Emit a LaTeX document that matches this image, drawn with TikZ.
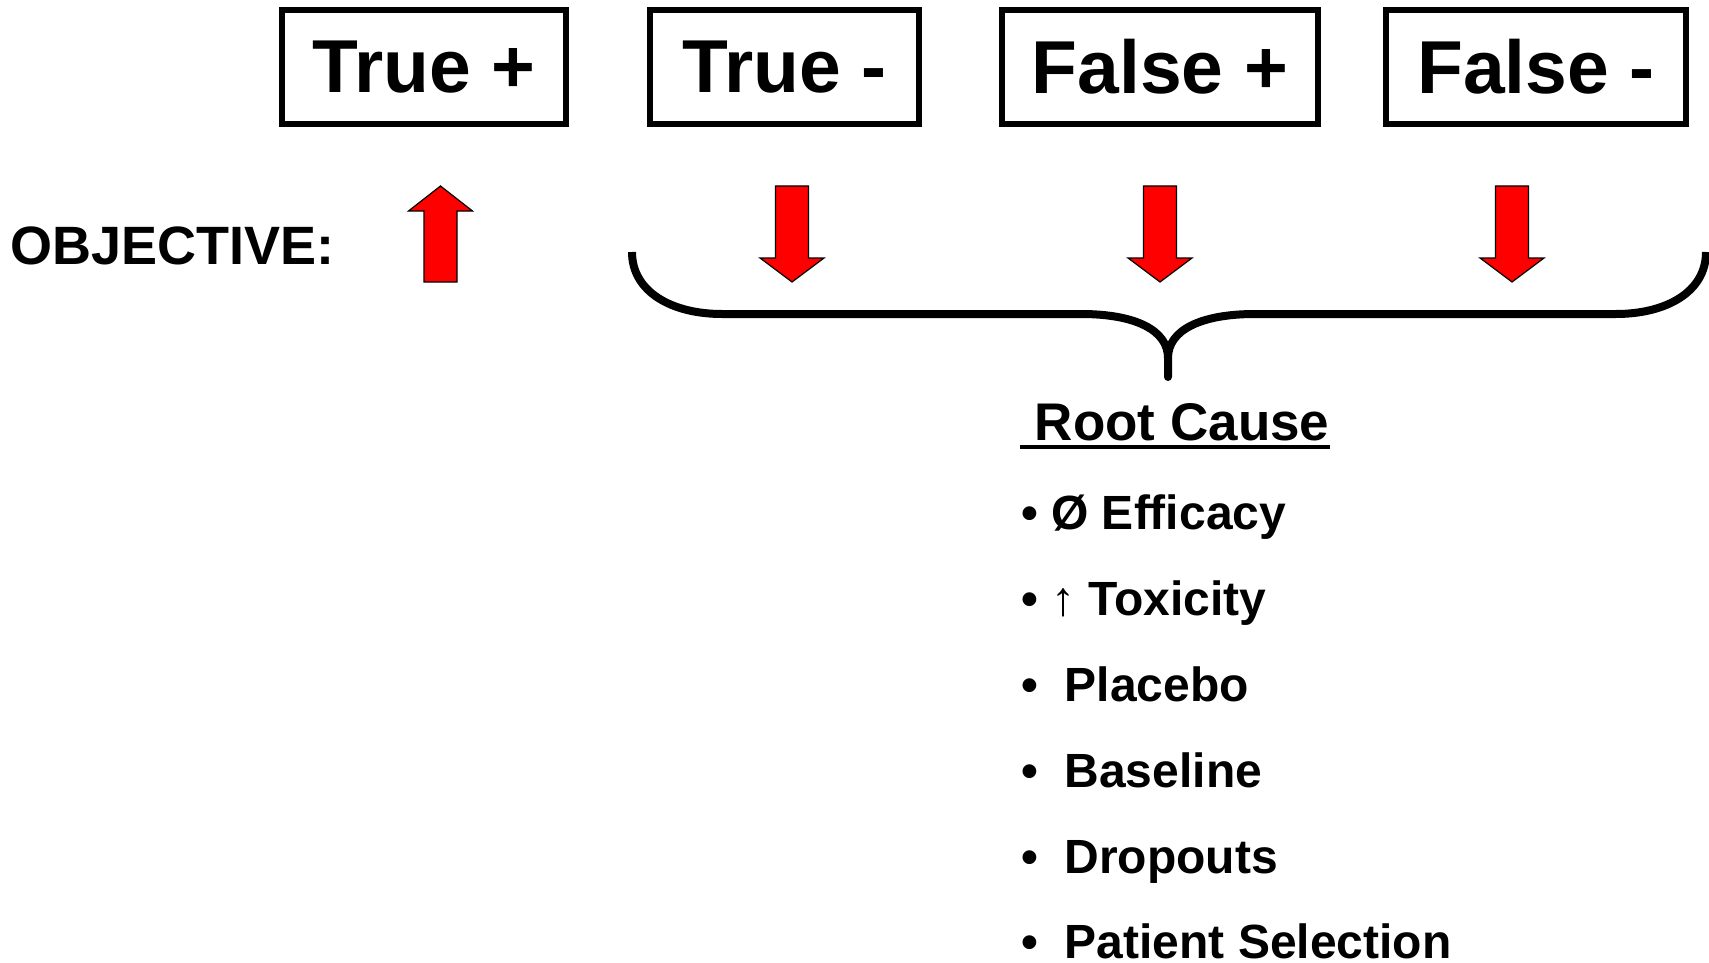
\documentclass[tikz,border=0pt]{standalone}
\usepackage{fontspec}
\setmainfont{Liberation Sans}
\tikzset{
x=1pt, y=-1pt, % one unit is one pixel of the picture, y runs downward
box/.style={draw, line width=6pt, minimum height=114, inner sep=0pt, font=\fontsize{75}{80}\selectfont\bfseries}, % the four outcome boxes
redarrow/.style={draw=black, fill=red, line width=1.2pt, line join=miter}, % the block arrows
brace/.style={line width=8pt, line join=round}, % the big curly brace
cause/.style={anchor=base west, inner sep=0pt, font=\fontsize{48}{52}\selectfont\bfseries}, % the root cause list
}

\begin{document}
\begin{tikzpicture}
    \useasboundingbox (0,0) rectangle (1709,963);
    % outcome boxes
    \node[box, minimum width=284] (tp) at (424,67) {True +};
    \node[box, minimum width=269] (tn) at (784.5,67) {True -};
    \node[box, minimum width=316] (fp) at (1160,67) {False +};
    \node[box, minimum width=300] (fn) at (1536,67) {False -};
    \node[anchor=base west, inner sep=0pt, font=\fontsize{54}{60}\selectfont\bfseries] (obj) at (10,264) {OBJECTIVE:};
    % arrows
    \draw[redarrow] (440.5,282) ++(-16.5,0) -- ++(33,0) -- ++(0,-71) -- ++(15.5,0) -- ++(-32,-25) -- ++(-32,25) -- ++(15.5,0) -- cycle;
    \foreach \x in {792,1160,1512}
        \draw[redarrow] (\x,186) ++(-16.5,0) -- ++(33,0) -- ++(0,72) -- ++(15.5,0) -- ++(-32,24) -- ++(-32,-24) -- ++(15.5,0) -- cycle;
    % brace
    \draw[brace] (632,252) .. controls (632,292) and (672,314) .. (722,314) -- (1081,314)
        .. controls (1135,314) and (1168,330) .. (1168,358) -- (1168,377) -- (1168,358)
        .. controls (1168,330) and (1201,314) .. (1255,314) -- (1616,314)
        .. controls (1666,314) and (1706,292) .. (1706,252);
    % root causes
    \node[cause, font=\fontsize{53}{58}\selectfont\bfseries] (rc) at (1020,440) {\ Root Cause};
    \draw[line width=3.5pt] ([yshift=-7pt]rc.base west) -- ([yshift=-7pt]rc.base east);
    \node[cause] (c1) at (1021,529) {• Ø Efficacy};
    \node[cause] (c2) at (1021,615) {• {\mdseries ↑} Toxicity};
    \node[cause] (c3) at (1021,701) {•\ \ Placebo};
    \node[cause] (c4) at (1021,787) {•\ \ Baseline};
    \node[cause] (c5) at (1021,873) {•\ \ Dropouts};
    \node[cause] (c6) at (1021,958) {•\ \ Patient Selection};
\end{tikzpicture}
\end{document}
